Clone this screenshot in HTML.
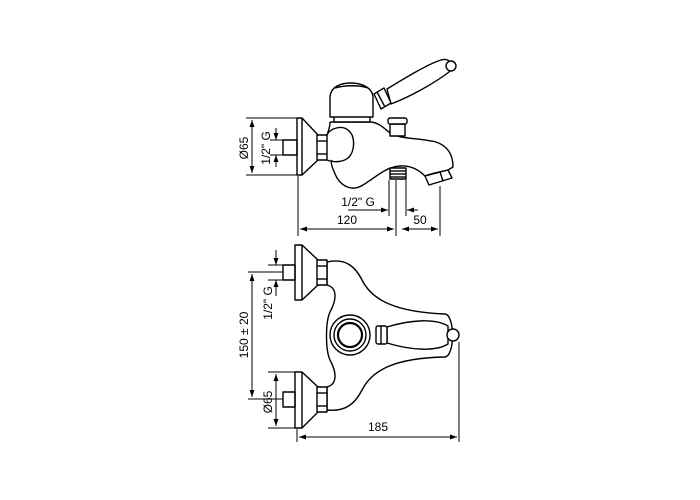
<!DOCTYPE html>
<html><head><meta charset="utf-8"><style>
html,body{margin:0;padding:0;background:#fff;}
svg{display:block;}
text{font-family:"Liberation Sans",Arial,sans-serif;font-size:12px;fill:#000;}
</style></head><body>
<svg width="700" height="500" viewBox="0 0 700 500" xmlns="http://www.w3.org/2000/svg">
<defs>
<marker id="a" viewBox="0 0 10 10" refX="10" refY="5" markerWidth="7" markerHeight="7" orient="auto-start-reverse" markerUnits="userSpaceOnUse"><path d="M0,1.5 L10,5 L0,8.5 z" fill="#000"/></marker>
</defs>
<g fill="none" stroke="#000" stroke-width="1.4" stroke-linejoin="round">
<!-- TOP VIEW -->
<polygon points="297,118 302,118 318,135 318,160 302,175 297,175" fill="#fff"/>
<line x1="302" y1="118" x2="302" y2="175"/>
<rect x="283" y="140" width="14" height="15"/>
<rect x="317" y="135" width="10" height="25" fill="#fff"/>
<line x1="317" y1="141" x2="327" y2="141"/><line x1="317" y1="154" x2="327" y2="154"/>
<path d="M330,122 L370,122 C378,122 384,128 390,133 C398,139 420,138 436,142 C448,146 453,155 453,167 L448,170 C440,172 432,173 425,176 C420,171 412,165 400,166 C385,167 375,178 363,185 C352,192 342,186 337,178 C333,170 330,162 332,160" fill="#fff"/>
<path d="M327,135 C330,128 342,125 348,130 C356,136 355,152 348,158 C342,163 332,162 327,160"/>
<path d="M330,122 C330,128 328,132 327,135"/>
<rect x="334" y="116" width="36" height="6" fill="#fff"/>
<path d="M330,117 L330,98 C330,86 342,83 351,83 C362,83 373,88 373,98 L373,117 Z" fill="#fff"/>
<path d="M335,88 C345,85 360,85 368,88"/>
<path d="M387,89 C405,78 428,64 441,60 C450,57 455,66 449,72 C436,82 412,96 391,104 Z" fill="#fff"/>
<polygon points="374,94 384,88 391,103 381,109" fill="#fff"/>
<line x1="377" y1="92" x2="385" y2="107"/>
<circle cx="451" cy="66" r="5" fill="#fff"/>
<rect x="390" y="124" width="15" height="12" fill="#fff"/>
<rect x="388" y="118" width="19" height="6" rx="2" fill="#fff"/>
<rect x="390" y="168" width="16" height="11" fill="#fff"/>
<line x1="390" y1="171" x2="406" y2="171"/><line x1="390" y1="174" x2="406" y2="174"/><line x1="390" y1="177" x2="406" y2="177"/>
<path d="M425,176 L448,170 L452,178 L429,185 Z" fill="#fff"/>
<line x1="440" y1="172" x2="443" y2="181"/>
</g>
<g fill="none" stroke="#000" stroke-width="1">
<line x1="246" y1="118" x2="297" y2="118"/><line x1="246" y1="175" x2="297" y2="175"/>
<line x1="252" y1="120" x2="252" y2="173" marker-start="url(#a)" marker-end="url(#a)"/>
<line x1="270" y1="140" x2="283" y2="140"/><line x1="270" y1="155" x2="283" y2="155"/>
<line x1="276" y1="128" x2="276" y2="140" marker-end="url(#a)"/>
<line x1="276" y1="167" x2="276" y2="155" marker-end="url(#a)"/>
<line x1="298" y1="176" x2="298" y2="236"/>
<line x1="389" y1="180" x2="389" y2="216"/>
<line x1="396" y1="180" x2="396" y2="236"/>
<line x1="406" y1="180" x2="406" y2="216"/>
<line x1="440" y1="186" x2="440" y2="236"/>
<line x1="300" y1="229" x2="394" y2="229" marker-start="url(#a)" marker-end="url(#a)"/>
<line x1="402" y1="229" x2="438" y2="229" marker-start="url(#a)" marker-end="url(#a)"/>
<line x1="348" y1="210" x2="388" y2="210" marker-end="url(#a)"/>
<line x1="418" y1="210" x2="407" y2="210" marker-end="url(#a)"/>
</g>
<g fill="none" stroke="#000" stroke-width="1.4" stroke-linejoin="round">
<path d="M327,262 C345,258 355,266 362,280 C372,300 395,312 445,314 C455,315 455,356 445,357 C395,358 372,370 362,390 C355,404 345,412 327,410 L327,387 C338,384 336,372 331,362 C325,352 325,320 331,310 C336,300 338,288 327,285 Z" fill="#fff"/>
<polygon points="295,245 302,245 318,260 318,285 302,300 295,300" fill="#fff"/>
<line x1="302" y1="245" x2="302" y2="300"/>
<rect x="283" y="265" width="12" height="15"/>
<rect x="317" y="260" width="10" height="25" fill="#fff"/>
<line x1="317" y1="266" x2="327" y2="266"/><line x1="317" y1="279" x2="327" y2="279"/>
<polygon points="295,372 302,372 318,387 318,412 302,428 295,428" fill="#fff"/>
<line x1="302" y1="372" x2="302" y2="428"/>
<rect x="283" y="392" width="12" height="15"/>
<rect x="317" y="387" width="10" height="25" fill="#fff"/>
<line x1="317" y1="393" x2="327" y2="393"/><line x1="317" y1="406" x2="327" y2="406"/>
<circle cx="350" cy="335" r="20" fill="#fff"/>
<circle cx="350" cy="335" r="16"/>
<circle cx="350" cy="335" r="12" stroke-width="2.2"/>
<path d="M387,327 C410,320 435,318 448,326 L448,344 C435,352 410,350 387,343 Z" fill="#fff"/>
<rect x="376" y="326" width="11" height="18" rx="2" fill="#fff"/>
<line x1="381" y1="326" x2="381" y2="344"/>
<circle cx="453" cy="335" r="6" fill="#fff"/>
</g>
<g fill="none" stroke="#000" stroke-width="1">
<line x1="248" y1="272" x2="283" y2="272"/>
<line x1="248" y1="399" x2="283" y2="399"/>
<line x1="252" y1="274" x2="252" y2="397" marker-start="url(#a)" marker-end="url(#a)"/>
<line x1="276" y1="250" x2="276" y2="265" marker-end="url(#a)"/>
<line x1="276" y1="296" x2="276" y2="280" marker-end="url(#a)"/>
<line x1="268" y1="265" x2="283" y2="265"/><line x1="268" y1="280" x2="283" y2="280"/>
<line x1="268" y1="372" x2="295" y2="372"/><line x1="268" y1="428" x2="295" y2="428"/>
<line x1="276" y1="374" x2="276" y2="426" marker-start="url(#a)" marker-end="url(#a)"/>
<line x1="297" y1="429" x2="297" y2="442"/>
<line x1="459" y1="342" x2="459" y2="442"/>
<line x1="299" y1="437" x2="457" y2="437" marker-start="url(#a)" marker-end="url(#a)"/>
</g>
<text x="347" y="224" text-anchor="middle">120</text>
<text x="420" y="224" text-anchor="middle">50</text>
<text x="358" y="206" text-anchor="middle">1/2" G</text>
<text x="378" y="431" text-anchor="middle">185</text>
<text transform="translate(248,148) rotate(-90)" text-anchor="middle">Ø65</text>
<text transform="translate(270,148) rotate(-90)" text-anchor="middle">1/2" G</text>
<text transform="translate(248,335) rotate(-90)" text-anchor="middle">150 ± 20</text>
<text transform="translate(272,303) rotate(-90)" text-anchor="middle">1/2" G</text>
<text transform="translate(272,402) rotate(-90)" text-anchor="middle">Ø65</text>
</svg>
</body></html>
